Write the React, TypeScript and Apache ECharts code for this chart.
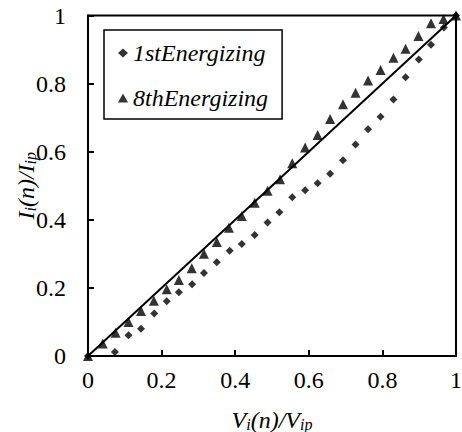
import React, { useEffect, useRef } from "react";
import * as echarts from "echarts";

const firstX = [0, 0.073, 0.11, 0.144, 0.18, 0.214, 0.247, 0.283, 0.315, 0.35, 0.385, 0.418, 0.453, 0.488, 0.52, 0.555, 0.59, 0.624, 0.658, 0.693, 0.727, 0.761, 0.795, 0.83, 0.863, 0.899, 0.932, 0.967, 1.0];
const firstY = [0, 0.012, 0.061, 0.08, 0.125, 0.161, 0.187, 0.211, 0.244, 0.275, 0.309, 0.329, 0.355, 0.392, 0.422, 0.466, 0.487, 0.507, 0.535, 0.575, 0.621, 0.666, 0.703, 0.753, 0.819, 0.871, 0.914, 0.965, 1.0];

const eighthX = [0, 0.04, 0.075, 0.11, 0.144, 0.179, 0.214, 0.247, 0.282, 0.315, 0.35, 0.383, 0.418, 0.453, 0.488, 0.522, 0.555, 0.59, 0.624, 0.658, 0.693, 0.727, 0.761, 0.795, 0.83, 0.863, 0.898, 0.932, 0.966, 1.0];
const eighthY = [0, 0.037, 0.068, 0.1, 0.132, 0.162, 0.196, 0.223, 0.258, 0.3, 0.335, 0.377, 0.411, 0.45, 0.485, 0.519, 0.566, 0.612, 0.649, 0.696, 0.739, 0.773, 0.809, 0.84, 0.876, 0.902, 0.94, 0.977, 0.99, 1.0];

const idealX = [0, 1];
const idealY = [0, 1];

const seriesNames = ["1stEnergizing", "8thEnergizing"];

const FONT = "Liberation Serif";
const FS = 24;

export default function App() {
  const ref = useRef<HTMLDivElement>(null);
  useEffect(() => {
    if (!ref.current) return;
    const chart = echarts.init(ref.current, undefined, { renderer: "svg" });
    const zip = (xs: number[], ys: number[]) => xs.map((x, i) => [x, ys[i]]);
    const axisCommon = {
      type: "value" as const,
      min: 0,
      max: 1,
      interval: 0.2,
      splitLine: { show: false },
      axisLine: { show: true, lineStyle: { color: "#000", width: 2 } },
      axisTick: { show: true, inside: true, length: 6, lineStyle: { color: "#000", width: 2 } },
    };
    const nameRich = {
      m: { fontFamily: FONT, fontStyle: "italic", fontSize: FS, color: "#000" },
      s: { fontFamily: FONT, fontStyle: "italic", fontSize: 16, color: "#000", verticalAlign: "bottom", padding: [8, 0, 0, 0] },
    };
    chart.setOption({
      animation: false,
      backgroundColor: "#fff",
      grid: {
        left: 88,
        right: 6,
        top: 15.5,
        bottom: 76,
        containLabel: false,
        outerBoundsMode: "none",
        show: true,
        borderColor: "#000",
        borderWidth: 2,
        backgroundColor: "transparent",
      },
      legend: {
        orient: "vertical",
        left: 104,
        top: 30,
        padding: [11, 14, 9, 14],
        itemGap: 21,
        itemWidth: 10,
        itemHeight: 9,
        borderColor: "#000",
        borderWidth: 1.5,
        backgroundColor: "#fff",
        textStyle: { fontFamily: FONT, fontStyle: "italic", fontSize: FS, color: "#000" },
        data: [
          { name: seriesNames[0], icon: "diamond" },
          { name: seriesNames[1], icon: "triangle" },
        ],
      },
      xAxis: {
        ...axisCommon,
        axisLabel: { color: "#000", fontFamily: FONT, fontSize: FS, margin: 12 },
        name: "{m|V}{s|i}{m|(n)/V}{s|ip}",
        nameLocation: "middle",
        nameGap: 52,
        nameMoveOverlap: false,
        nameTextStyle: { rich: nameRich },
      },
      yAxis: {
        ...axisCommon,
        axisLabel: { color: "#000", fontFamily: FONT, fontSize: FS, margin: 22 },
        name: "{m|I}{s|i}{m|(n)/I}{s|ip}",
        nameLocation: "middle",
        nameRotate: 90,
        nameGap: 50,
        nameMoveOverlap: false,
        nameTextStyle: { rich: nameRich },
      },
      series: [
        {
          type: "line",
          data: zip(idealX, idealY),
          showSymbol: false,
          symbol: "none",
          lineStyle: { color: "#000", width: 2 },
          silent: true,
          z: 1,
        },
        {
          name: seriesNames[0],
          type: "scatter",
          data: zip(firstX, firstY),
          symbol: "diamond",
          symbolSize: 8,
          itemStyle: { color: "#000" },
          z: 3,
        },
        {
          name: seriesNames[1],
          type: "scatter",
          data: zip(eighthX, eighthY),
          symbol: "triangle",
          symbolSize: 10,
          itemStyle: { color: "#000" },
          z: 3,
        },
      ],
    });
    return () => chart.dispose();
  }, []);
  return (
    <div
      ref={ref}
      style={{ position: "fixed", left: 0, top: 0, width: 462, height: 432, background: "#fff" }}
    />
  );
}
